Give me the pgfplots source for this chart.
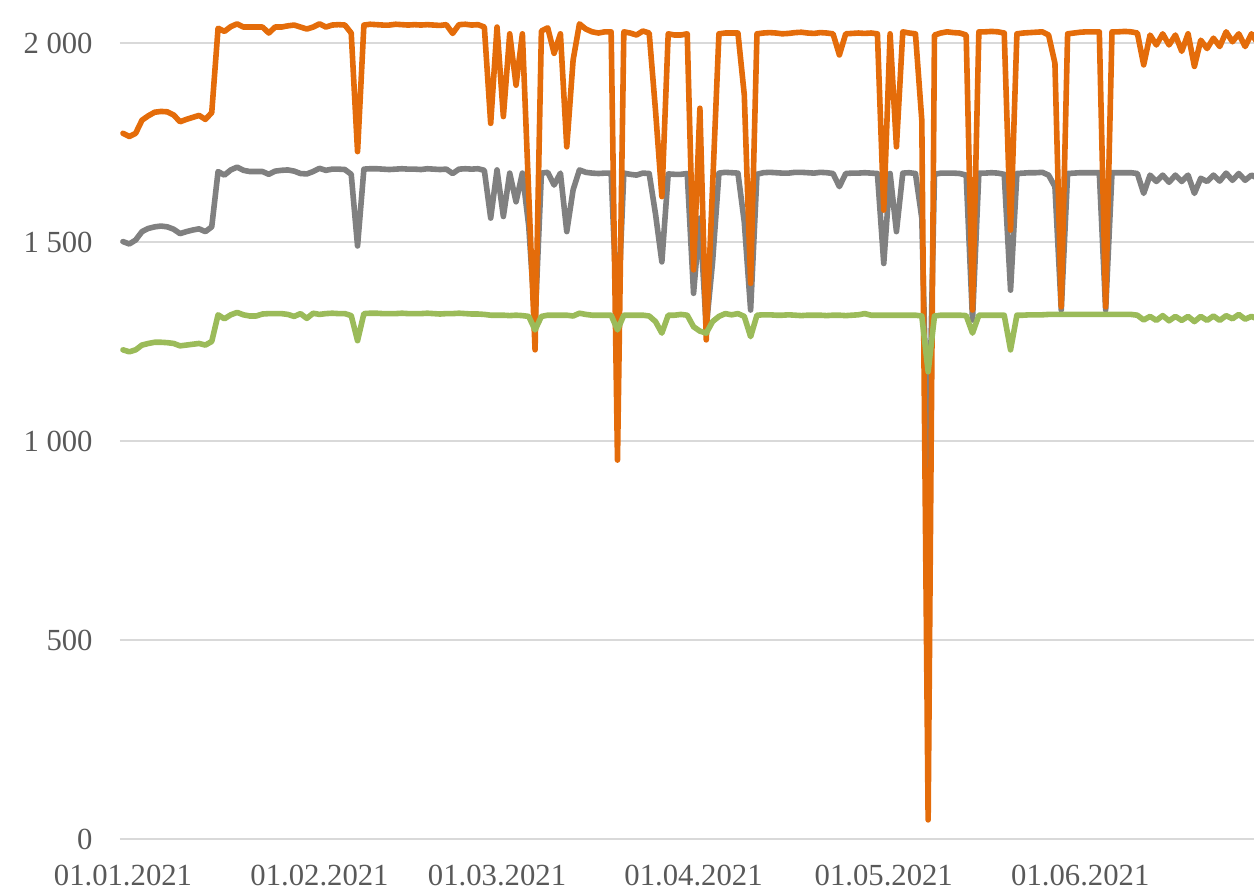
\documentclass[border=0pt]{standalone}
\usepackage{fontspec}
\setmainfont{Liberation Serif}
\usepackage{pgfplots}
\usepackage{pgfplotstable}
\pgfplotsset{compat=1.18}

\definecolor{corange}{HTML}{E46C0A}
\definecolor{cgray}{HTML}{808080}
\definecolor{cgreen}{HTML}{9BBB59}
\definecolor{gridc}{HTML}{D9D9D9}
\definecolor{labc}{HTML}{595959}

% day 0 = 01.01.2021
\pgfplotstableread{
day orange gray green
0 1773 1501 1229
1 1765 1495 1224
2 1773 1505 1229
3 1806 1526 1241
4 1817 1534 1245
5 1826 1538 1248
6 1828 1540 1248
7 1827 1538 1247
8 1819 1532 1245
9 1802 1521 1239
10 1808 1526 1241
11 1813 1530 1243
12 1818 1533 1245
13 1808 1526 1241
14 1825 1538 1250
15 2037 1677 1317
16 2029 1668 1307
17 2041 1681 1317
18 2048 1688 1323
19 2040 1680 1317
20 2040 1677 1314
21 2040 1677 1314
22 2040 1677 1319
23 2025 1670 1320
24 2040 1678 1320
25 2040 1680 1320
26 2043 1681 1318
27 2045 1678 1313
28 2040 1672 1320
29 2035 1671 1308
30 2040 1677 1321
31 2048 1685 1318
32 2040 1680 1320
33 2045 1683 1321
34 2046 1683 1320
35 2045 1682 1320
36 2025 1670 1315
37 1727 1490 1252
38 2045 1683 1320
39 2047 1684 1321
40 2046 1684 1321
41 2045 1683 1320
42 2045 1682 1320
43 2047 1683 1320
44 2046 1684 1321
45 2045 1683 1320
46 2046 1683 1320
47 2045 1682 1320
48 2046 1684 1321
49 2045 1683 1320
50 2044 1682 1319
51 2046 1683 1320
52 2024 1672 1320
53 2046 1683 1321
54 2047 1684 1320
55 2045 1683 1319
56 2046 1684 1319
57 2040 1680 1318
58 1798 1560 1316
59 2040 1681 1316
60 1815 1564 1316
61 2023 1673 1315
62 1894 1601 1316
63 2023 1673 1315
64 1620 1540 1313
65 1229 1300 1279
66 2030 1673 1313
67 2038 1675 1316
68 1974 1643 1316
69 2023 1673 1316
70 1739 1526 1316
71 1957 1631 1314
72 2048 1681 1321
73 2035 1675 1318
74 2028 1673 1316
75 2025 1672 1316
76 2028 1673 1316
77 2028 1673 1316
78 952 1290 1279
79 2028 1673 1316
80 2025 1670 1316
81 2020 1668 1316
82 2030 1673 1316
83 2025 1672 1314
84 1830 1570 1300
85 1614 1450 1271
86 2023 1671 1316
87 2020 1670 1316
88 2020 1670 1318
89 2023 1672 1316
90 1430 1371 1287
91 1836 1560 1276
92 1254 1285 1271
93 1640 1450 1300
94 2023 1673 1313
95 2025 1675 1320
96 2025 1674 1317
97 2025 1673 1320
98 1870 1550 1313
99 1396 1329 1262
100 2023 1670 1316
101 2025 1674 1317
102 2026 1675 1317
103 2025 1674 1316
104 2023 1673 1316
105 2024 1673 1317
106 2026 1675 1316
107 2027 1675 1315
108 2025 1674 1316
109 2024 1673 1316
110 2026 1675 1316
111 2025 1674 1315
112 2023 1672 1316
113 1970 1639 1316
114 2023 1672 1315
115 2024 1673 1316
116 2025 1673 1317
117 2024 1674 1320
118 2025 1673 1316
119 2023 1672 1316
120 1580 1446 1316
121 2023 1672 1316
122 1739 1526 1316
123 2028 1673 1316
124 2025 1674 1316
125 2023 1672 1316
126 1806 1560 1314
127 48 900 1174
128 2020 1670 1314
129 2025 1673 1316
130 2028 1673 1316
131 2026 1673 1316
132 2025 1672 1316
133 2020 1668 1315
134 1329 1304 1271
135 2028 1673 1316
136 2028 1673 1316
137 2029 1674 1316
138 2028 1673 1316
139 2025 1670 1316
140 1530 1379 1229
141 2023 1672 1316
142 2025 1673 1316
143 2026 1674 1317
144 2027 1674 1317
145 2028 1675 1317
146 2020 1668 1318
147 1949 1639 1318
148 1337 1329 1318
149 2023 1672 1318
150 2025 1673 1318
151 2027 1674 1318
152 2028 1674 1318
153 2028 1674 1318
154 2028 1674 1318
155 1337 1329 1318
156 2028 1674 1318
157 2028 1674 1318
158 2029 1674 1318
159 2028 1674 1318
160 2025 1672 1316
161 1945 1622 1304
162 2020 1668 1313
163 1995 1652 1303
164 2023 1668 1315
165 1995 1650 1302
166 2020 1668 1313
167 1979 1652 1303
168 2023 1668 1313
169 1941 1622 1300
170 2007 1660 1313
171 1986 1652 1303
172 2012 1668 1314
173 1991 1653 1303
174 2028 1673 1315
175 2003 1655 1307
176 2023 1672 1318
177 1991 1655 1306
178 2023 1668 1313
179 1999 1660 1306
}\data

\begin{document}
\begin{tikzpicture}
\useasboundingbox (-60pt,-26.5pt) rectangle (567pt,419.5pt);
\begin{axis}[
    scale only axis,
    width=567pt, height=419.5pt,
    xmin=-0.47, xmax=178.4,
    ymin=0, ymax=2108,
    axis line style={draw=none},
    tick style={draw=none},
    ymajorgrids,
    major grid style={gridc, line width=1pt},
    ytick={0,500,1000,1500,2000},
    yticklabels={0,500,1 000,1 500,2 000},
    xtick={0,31,59,90,120,151},
    xticklabels={01.01.2021,01.02.2021,01.03.2021,01.04.2021,01.05.2021,01.06.2021},
    tick label style={font=\fontsize{15.35pt}{18pt}\selectfont, text=labc, inner sep=0pt},
    yticklabel style={anchor=east, xshift=-13.5pt},
    xticklabel style={anchor=north, yshift=-13pt},
    every axis plot/.append style={line width=2.8pt, line join=round, line cap=round, mark=none},
]
\addplot[cgray] table[x=day, y=gray] {\data};
\addplot[corange] table[x=day, y=orange] {\data};
\addplot[cgreen] table[x=day, y=green] {\data};
\end{axis}
\end{tikzpicture}
\end{document}
